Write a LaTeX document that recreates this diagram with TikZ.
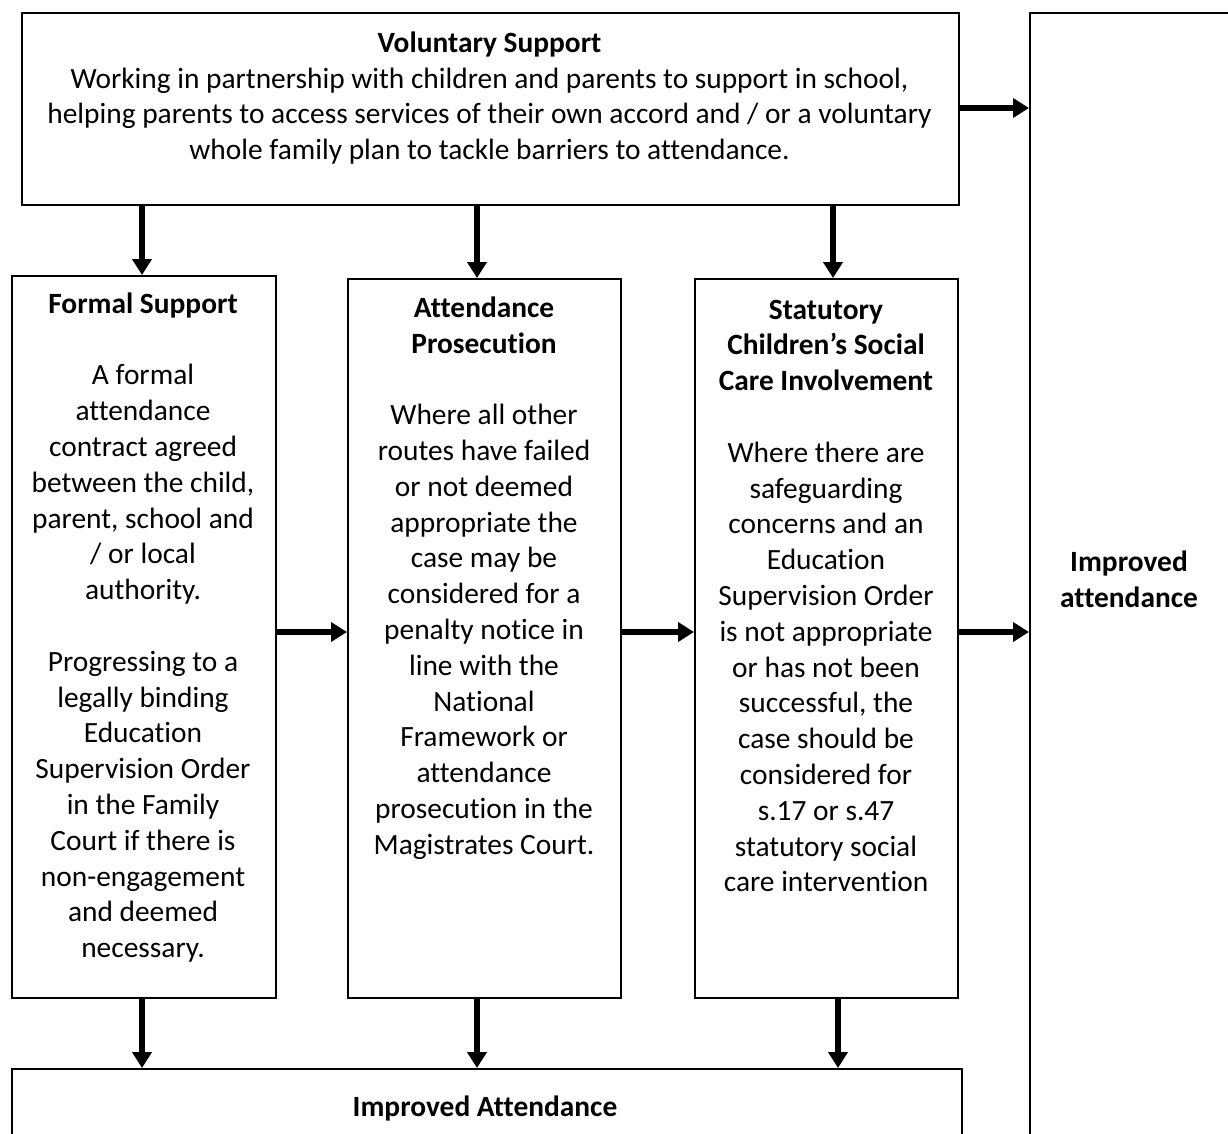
\documentclass[tikz,border=0pt]{standalone}
\usepackage{fontspec}
\setmainfont[Ligatures=NoCommon]{Carlito}
\usetikzlibrary{arrows.meta}
\begin{document}
\begin{tikzpicture}[x=1pt,y=-1pt,
  box/.style={draw, line width=1.8pt, inner sep=0pt, anchor=north west},
  txt/.style={align=center, font=\fontsize{29.4}{35.8}\selectfont, inner sep=0pt},
  arr/.style={line width=6pt, -{Triangle[length=16pt,width=19pt]}}]
\clip (0,0) rectangle (1228,1133);
\fill[white] (0,0) rectangle (1228,1133);
% boxes
\node[box, minimum width=937pt, minimum height=192pt] (vol) at (21,12) {};
\node[box, minimum width=240pt, minimum height=1160pt] (right) at (1029,12) {};
\node[box, minimum width=264pt, minimum height=722pt] (formal) at (11,275) {};
\node[box, minimum width=273pt, minimum height=719pt] (pros) at (347,278) {};
\node[box, minimum width=263pt, minimum height=719pt] (stat) at (694,278) {};
\node[box, minimum width=950pt, minimum height=100pt] (impr) at (11,1068) {};
% texts
\node[txt] (voltxt) at (489.5,98) {\textbf{Voluntary Support}\\
Working in partnership with children and parents to support in school,\\
helping parents to access services of their own accord and / or a voluntary\\
whole family plan to tackle barriers to attendance.};
\node[txt] (formaltxt) at (143,627.5) {\textbf{Formal Support}\\[35.8pt]
A formal\\attendance\\contract agreed\\between the child,\\parent, school and\\/ or local\\authority.\\[35.8pt]
Progressing to a\\legally binding\\Education\\Supervision Order\\in the Family\\Court if there is\\non-engagement\\and deemed\\necessary.};
\node[txt] (prostxt) at (484,578) {\textbf{Attendance}\\\textbf{Prosecution}\\[35.8pt]
Where all other\\routes have failed\\or not deemed\\appropriate the\\case may be\\considered for a\\penalty notice in\\line with the\\National\\Framework or\\attendance\\prosecution in the\\Magistrates Court.};
\node[txt] (stattxt) at (826,596) {\textbf{Statutory}\\\textbf{Children’s Social}\\\textbf{Care Involvement}\\[35.8pt]
Where there are\\safeguarding\\concerns and an\\Education\\Supervision Order\\is not appropriate\\or has not been\\successful, the\\case should be\\considered for\\s.17 or s.47\\statutory social\\care intervention};
\node[txt] (righttxt) at (1129,579) {\textbf{Improved}\\\textbf{attendance}};
\node[txt] (imprtxt) at (485,1108) {\textbf{Improved Attendance}};
% connector guides
\coordinate (xa) at (142,0);
\coordinate (xb) at (477,0);
\coordinate (xc) at (833,0);
\coordinate (xd) at (838,0);
\coordinate (ya) at (0,108);
\coordinate (yb) at (0,632);
% arrows
\draw[arr] (xa |- vol.south) -- (xa |- formal.north);
\draw[arr] (xb |- vol.south) -- (xb |- pros.north);
\draw[arr] (xc |- vol.south) -- (xc |- stat.north);
\draw[arr] (ya -| vol.east) -- (ya -| right.west);
\draw[arr] (yb -| formal.east) -- (yb -| pros.west);
\draw[arr] (yb -| pros.east) -- (yb -| stat.west);
\draw[arr] (yb -| stat.east) -- (yb -| right.west);
\draw[arr] (xa |- formal.south) -- (xa |- impr.north);
\draw[arr] (xb |- pros.south) -- (xb |- impr.north);
\draw[arr] (xd |- stat.south) -- (xd |- impr.north);
\end{tikzpicture}
\end{document}
